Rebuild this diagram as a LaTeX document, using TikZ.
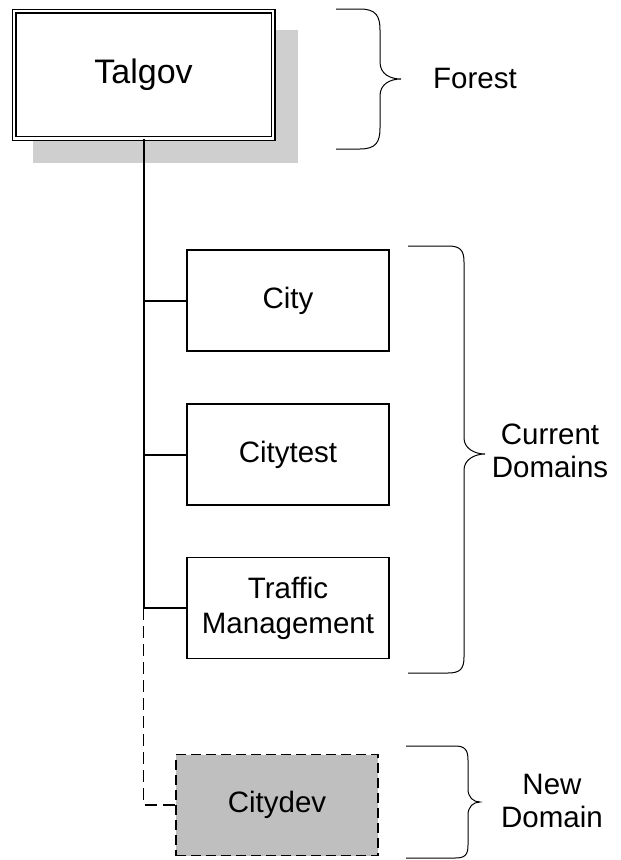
\documentclass[tikz,border=0pt]{standalone}
\usepackage{fontspec}
\setmainfont{Liberation Sans}
\begin{document}
\begin{tikzpicture}[x=1pt,y=-1pt,
  domainbox/.style={draw,line width=1.4pt,fill=white,minimum width=202pt,minimum height=101pt,
    inner sep=0pt,align=center,font=\fontsize{29.5}{35}\selectfont},
  newdomainbox/.style={domainbox,fill=black!25,dash pattern=on 10pt off 5pt},
  rootbox/.style={draw,line width=1.2pt,double=white,double distance=2.6pt,fill=white,
    minimum width=259pt,minimum height=127.5pt,inner sep=0pt,font=\fontsize{34}{40}\selectfont},
  link/.style={line width=2pt},
  newlink/.style={line width=1.4pt,dash pattern=on 12pt off 6pt},
  bracepath/.style={line width=1pt},
  lbl/.style={align=center,font=\fontsize{29.5}{33}\selectfont}]
\useasboundingbox (0,0) rectangle (621,860);

% forest root with drop shadow
\fill[black!19] (33,30) rectangle (298,163);
\node[rootbox] (talgov) at (143.5,74.9) {Talgov};

% existing domains
\node[domainbox] (city) at (288,300.5) {City};
\node[domainbox] (citytest) at (288,454.5) {Citytest};
\node[domainbox] (traffic) at (288,608) {Traffic\\Management};

% planned domain
\node[newdomainbox] (citydev) at (277,805) {Citydev};

% tree connectors
\coordinate (split) at (talgov.south |- traffic.west);
\coordinate (corner) at (talgov.south |- citydev.west);
\draw[link] (talgov.south) -- (split);
\draw[link] (talgov.south |- city.west) -- (city.west);
\draw[link] (talgov.south |- citytest.west) -- (citytest.west);
\draw[link] (split) -- (traffic.west);
\draw[newlink] (split) -- (corner) -- (citydev.west);

% braces
\draw[bracepath] (336,9) -- (360,9) .. controls (376,9) and (380,16) .. (380,30) -- (380,62)
  .. controls (380,74) and (390,79) .. (401,79) .. controls (390,79) and (380,84) .. (380,96)
  -- (380,128) .. controls (380,142) and (376,149) .. (360,149) -- (336,149);
\draw[bracepath] (408,246) -- (448,246) .. controls (460,246) and (464,250) .. (464,262) -- (464,438)
  .. controls (464,448) and (474,454) .. (485,454) .. controls (474,454) and (464,460) .. (464,470)
  -- (464,657) .. controls (464,669) and (460,673) .. (448,673) -- (408,673);
\draw[bracepath] (406,746) -- (455,746) .. controls (465,746) and (468,750) .. (468,760) -- (468,789)
  .. controls (468,797) and (473,802) .. (480,802) .. controls (473,802) and (468,807) .. (468,815)
  -- (468,845) .. controls (468,855) and (465,858) .. (455,858) -- (406,858);

% brace labels
\node[lbl] (forest) at (475,78) {Forest};
\node[lbl] (current) at (550,451) {Current\\Domains};
\node[lbl] (new) at (552,801) {New\\Domain};
\end{tikzpicture}
\end{document}
